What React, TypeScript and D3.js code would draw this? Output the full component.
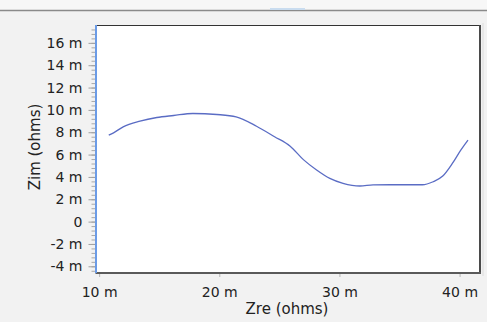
import React, { useEffect, useRef } from 'react'
import * as d3 from 'd3'

// impedance curve, both axes in milliohms
const zre = [10.8, 11.2, 12.0, 13.4, 14.8, 16.2, 17.8, 19.8, 21.4, 23.1, 24.6, 25.9, 27.0, 28.1, 29.2, 30.3, 31.7, 32.8, 34.2, 35.6, 36.9, 37.8, 38.6, 39.4, 40.1, 40.7];
const zim = [7.74, 7.95, 8.48, 8.99, 9.32, 9.5, 9.68, 9.59, 9.38, 8.54, 7.6, 6.75, 5.55, 4.62, 3.87, 3.43, 3.19, 3.28, 3.3, 3.3, 3.3, 3.57, 4.08, 5.21, 6.4, 7.3];

const xTicks = [10, 20, 30, 40];
const yTicks = [-4, -2, 0, 2, 4, 6, 8, 10, 12, 14, 16];

const W = 487, H = 322;
const FONT = "'DejaVu Sans', Verdana, sans-serif";

const fmt = (v: number) => (v === 0 ? "0" : `${v} m`);

export default function App() {
	const ref = useRef<SVGSVGElement>(null);

	useEffect(() => {
		const svg = d3.select(ref.current);
		svg.selectAll("*").remove();

		const left = 96.5, right = 480, top = 25, bottom = 273;
		const x = d3.scaleLinear().domain([9.78, 41.7]).range([left, right]);
		const y = d3.scaleLinear().domain([-4.6, 17.6]).range([bottom, top]);

		// background + window edge
		svg.append("rect").attr("width", W).attr("height", H).attr("fill", "#f2f2f2");
		svg.append("rect").attr("width", W).attr("height", 10).attr("fill", "#f7f7f7");
		svg.append("line").attr("x1", 0).attr("x2", W).attr("y1", 10.5).attr("y2", 10.5)
			.attr("stroke", "#8a8a8a").attr("stroke-width", 1.5);
		svg.append("line").attr("x1", 270).attr("x2", 305).attr("y1", 9).attr("y2", 9)
			.attr("stroke", "#c9dcef").attr("stroke-width", 2);

		// plot area
		svg.append("rect").attr("x", left).attr("y", top).attr("width", right - left).attr("height", bottom - top)
			.attr("fill", "#fff");
		svg.append("line").attr("x1", left).attr("x2", right).attr("y1", top + 0.5).attr("y2", top + 0.5)
			.attr("stroke", "#333");
		svg.append("line").attr("x1", right + 3).attr("x2", right + 3).attr("y1", top - 2).attr("y2", bottom + 3)
			.attr("stroke", "#dcdcdc");
		svg.append("line").attr("x1", right).attr("x2", right).attr("y1", top).attr("y2", bottom + 1)
			.attr("stroke", "#4a4a4a").attr("stroke-width", 2);

		// x axis
		const xa = svg.append("g").attr("transform", `translate(0,${bottom})`)
			.call(d3.axisBottom(x).tickValues(xTicks).tickSize(4).tickPadding(10).tickFormat(d => fmt(+d)));
		xa.select(".domain").remove();
		xa.selectAll("line").attr("stroke", "#b5b5b5");
		xa.selectAll("text").attr("font-family", FONT).attr("font-size", 14).attr("fill", "#222");
		svg.append("line").attr("x1", left - 1).attr("x2", right + 1).attr("y1", bottom).attr("y2", bottom)
			.attr("stroke", "#5a5a5a").attr("stroke-width", 2);

		// y axis: minor ticks, then major ticks with labels
		const minor = d3.range(-4.4, 17.6, 0.4);
		const ym = svg.append("g").attr("transform", `translate(${left - 1},0)`)
			.call(d3.axisLeft(y).tickValues(minor).tickSize(4).tickFormat(() => ""));
		ym.select(".domain").remove();
		ym.selectAll("line").attr("stroke", "#a8a8a8");

		const ya = svg.append("g").attr("transform", `translate(${left - 1},0)`)
			.call(d3.axisLeft(y).tickValues(yTicks).tickSize(7).tickPadding(6).tickFormat(d => fmt(+d)));
		ya.select(".domain").remove();
		ya.selectAll("line").attr("stroke", "#a0a0a0");
		ya.selectAll("text").attr("font-family", FONT).attr("font-size", 14).attr("fill", "#222");

		svg.append("line").attr("x1", left - 0.5).attr("x2", left - 0.5).attr("y1", top).attr("y2", bottom)
			.attr("stroke", "#6b9be6").attr("stroke-width", 2);

		// curve
		const pts = zre.map((v, i) => [v, zim[i]] as [number, number]);
		const line = d3.line<[number, number]>().x(d => x(d[0])).y(d => y(d[1])).curve(d3.curveMonotoneX);
		svg.append("path").datum(pts).attr("d", line).attr("fill", "none")
			.attr("stroke", "#5a6cc4").attr("stroke-width", 1.3);

		// axis titles
		svg.append("text").attr("x", 287).attr("y", 314).attr("text-anchor", "middle")
			.attr("font-family", FONT).attr("font-size", 15).attr("fill", "#222").text("Zre (ohms)");
		svg.append("text").attr("transform", `translate(40,147) rotate(-90)`).attr("text-anchor", "middle")
			.attr("font-family", FONT).attr("font-size", 15).attr("fill", "#222").text("Zim (ohms)");
	}, []);

	return (
		<svg ref={ref} width={W} height={H}
			style={{ position: "absolute", left: 0, top: 0, display: "block" }} />
	);
}
